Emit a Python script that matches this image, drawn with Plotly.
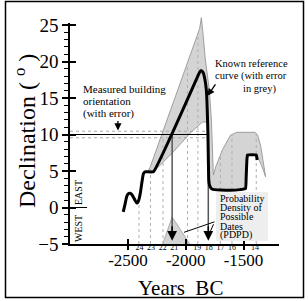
import numpy as np
import plotly.graph_objects as go

W, H = 308, 301
def px(x):
    return x / W
def py(y):
    return 1 - y / H

SERIF = "Liberation Serif"

# ---------------- data ----------------
# reference curve (thick black line)
CURVE_YEARS = [-2541, -2525, -2511, -2497, -2483, -2468, -2454, -2438, -2424, -2412,
               -2402, -2390, -2381, -2367, -2352, -2280, -1890, -1878, -1865, -1850,
               -1835, -1822, -1809, -1804, -1801, -1795, -1787, -1770, -1700, -1613,
               -1530, -1483, -1477, -1471, -1465, -1390, -1382]
CURVE_DECL = [-0.6, 0.5, 1.5, 1.9, 1.95, 1.8, 1.45, 0.95, 0.6, 0.8,
              1.3, 2.3, 3.3, 4.6, 4.9, 4.9, 18.2, 18.6, 18.75, 18.5,
              17.6, 16.1, 10.6, 6.0, 3.8, 3.1, 2.8, 2.5, 2.4, 2.35,
              2.45, 2.6, 4.2, 6.5, 7.2, 7.2, 6.5]

# error band of the reference curve (grey)
UPPER_YEARS = [-2330, -2309, -1880, -1865, -1852, -1830, -1796, -1778, -1761, -1740,
               -1683, -1613, -1560, -1400, -1378, -1352, -1309]
UPPER_DECL = [4.9, 5.5, 24.5, 26.0, 24.0, 20.2, 16.1, 12.0, 4.45, 5.6,
              7.9, 9.9, 10.3, 10.3, 9.9, 8.5, 4.2]
LOWER_YEARS = [-2330, -2265, -2109, -1961, -1856, -1813, -1809, -1804, -1801, -1795,
               -1787, -1770, -1700, -1613, -1530, -1483, -1477, -1471, -1465, -1385,
               -1340, -1309]
LOWER_DECL = [4.9, 5.1, 7.6, 10.2, 11.7, 11.7, 10.6, 6.0, 3.8, 3.1,
              2.8, 2.5, 2.4, 2.35, 2.45, 2.6, 4.2, 6.5, 7.2, 7.2,
              5.6, 4.2]

# measured building orientation
MEASURED = 10.0
MEASURED_ERR = 0.45

# probability density of possible dates
PDPD_YEARS = [-2200, -2118, -1965]
PDPD_DECL = [-5.0, -1.3, -5.0]

# projected dates (arrows)
ARROW_YEARS = [-2118, -1805]

# faint dotted projections
DOTTED_YEARS = [-2405, -2305, -2197, -1985, -1895, -1700, -1600, -1390]

# axes
X_RANGE = [-3002, -1193]
Y_RANGE_DATA = [-5, 26.5]
Y_RANGE_AXIS = [-5, 25.3]
X_TICKS = [-2500, -2000, -1500]
X_TICK_TEXT = ["-2500", "-2000", "-1500"]
Y_TICKS = [-5, 0, 5, 10, 15, 20, 25]
Y_MINOR = [v for v in range(-5, 26) if v % 5 != 0]
CENTURY_YEARS = [-2400, -2300, -2200, -2100, -1900, -1800, -1700, -1600, -1400]
CENTURY_TEXT = ["24", "23", "22", "21", "19", "18", "17", "16", "14"]

# ---------------- figure ----------------
XD = [px(70), px(279)]
YD_DATA = [py(244), py(244 - (Y_RANGE_DATA[1] - Y_RANGE_DATA[0]) * 7.3)]
YD_AXIS = [py(244), py(244 - (Y_RANGE_AXIS[1] - Y_RANGE_AXIS[0]) * 7.3)]

fig = go.Figure()

# grey band
poly_x = UPPER_YEARS + LOWER_YEARS[::-1]
poly_y = UPPER_DECL + LOWER_DECL[::-1]
fig.add_trace(go.Scatter(x=poly_x, y=poly_y, fill="toself", fillcolor="#d4d4d4",
                         mode="lines", line=dict(color="#8c8c8c", width=0.8),
                         hoverinfo="skip", showlegend=False))

# PDPD triangle
fig.add_trace(go.Scatter(x=PDPD_YEARS, y=PDPD_DECL, fill="toself", fillcolor="#d4d4d4",
                         mode="lines", line=dict(color="#9a9a9a", width=0.8),
                         hoverinfo="skip", showlegend=False))

# dotted vertical projections
up = np.interp(DOTTED_YEARS, UPPER_YEARS, UPPER_DECL, left=np.nan, right=np.nan)
cv = np.interp(DOTTED_YEARS, CURVE_YEARS, CURVE_DECL)
dx, dy = [], []
for yr, u, c in zip(DOTTED_YEARS, up, cv):
    top = c if np.isnan(u) else max(u, c)
    dx += [yr, yr, None]
    dy += [Y_RANGE_DATA[0], top, None]
fig.add_trace(go.Scatter(x=dx, y=dy, mode="lines",
                         line=dict(color="#b0b0b0", width=1, dash="dot"),
                         hoverinfo="skip", showlegend=False))

# measured orientation lines
x_end = ARROW_YEARS[1] + 8
fig.add_trace(go.Scatter(
    x=[X_RANGE[0], x_end, None, X_RANGE[0], x_end],
    y=[MEASURED + MEASURED_ERR, MEASURED + MEASURED_ERR, None,
       MEASURED - MEASURED_ERR, MEASURED - MEASURED_ERR],
    mode="lines", line=dict(color="#a8a8a8", width=1, dash="dot"),
    hoverinfo="skip", showlegend=False))
fig.add_trace(go.Scatter(x=[X_RANGE[0], x_end], y=[MEASURED, MEASURED], mode="lines",
                         line=dict(color="black", width=1),
                         hoverinfo="skip", showlegend=False))

# arrow shafts
ax_, ay_ = [], []
for yr in ARROW_YEARS:
    ax_ += [yr, yr, None]
    ay_ += [MEASURED, -4.0, None]
fig.add_trace(go.Scatter(x=ax_, y=ay_, mode="lines",
                         line=dict(color="#555555", width=1.5),
                         hoverinfo="skip", showlegend=False))

# reference curve
fig.add_trace(go.Scatter(x=CURVE_YEARS, y=CURVE_DECL, mode="lines",
                         line=dict(color="black", width=3, shape="spline", smoothing=0.3),
                         hoverinfo="skip", showlegend=False))

# dummy traces to instantiate decorative axes
for xa, ya in [("x2", "y2"), ("x3", "y2"), ("x2", "y3"), ("x4", "y2")]:
    fig.add_trace(go.Scatter(x=[None], y=[None], xaxis=xa, yaxis=ya, mode="lines",
                             hoverinfo="skip", showlegend=False))

annotations = []
# arrowheads on the projections
for yr in ARROW_YEARS:
    annotations.append(dict(x=yr, y=-4.55, xref="x", yref="y", text="", showarrow=True,
                            ax=0, ay=-16, arrowhead=2, arrowsize=1.3, arrowwidth=1.5,
                            arrowcolor="black", standoff=0))

# measured building label + arrow
meas_lines = ["Measured building", "orientation", "(with error)"]
for t, yc in zip(meas_lines, [89, 101, 113]):
    annotations.append(dict(x=px(81), y=py(yc), xref="paper", yref="paper", text=t,
                            showarrow=False, xanchor="left", yanchor="middle",
                            font=dict(family=SERIF, size=11, color="black")))
annotations.append(dict(x=-2587, y=MEASURED + MEASURED_ERR + 0.1, xref="x", yref="y",
                        text="", showarrow=True, ax=0, ay=-11, arrowhead=2,
                        arrowsize=1.1, arrowwidth=1.3, arrowcolor="black", standoff=0))

# known reference label + arrow
known_lines = ["Known reference", "curve (with error", "in grey)"]
for t, xl, yc in zip(known_lines, [213, 213, 241], [63, 76, 89]):
    annotations.append(dict(x=px(xl), y=py(yc), xref="paper", yref="paper", text=t,
                            showarrow=False, xanchor="left", yanchor="middle",
                            font=dict(family=SERIF, size=10.5, color="black")))
annotations.append(dict(x=-1812, y=15.3, xref="x", yref="y", text="", showarrow=True,
                        ax=9, ay=-13, arrowhead=2, arrowsize=1.1, arrowwidth=1.3,
                        arrowcolor="black", standoff=0))

# PDPD label
pdpd_lines = ["Probability", "Density of", "Possible", "Dates", "(PDPD)"]
for t, yc in zip(pdpd_lines, [198, 207.5, 217, 226.5, 235]):
    annotations.append(dict(x=px(218), y=py(yc), xref="paper", yref="paper", text=t,
                            showarrow=False, xanchor="left", yanchor="middle",
                            font=dict(family=SERIF, size=10, color="black")))
annotations.append(dict(x=-2015, y=-3.4, xref="x", yref="y", text="", showarrow=True,
                        ax=32, ay=-11, arrowhead=0, arrowwidth=1, arrowcolor="black",
                        standoff=0))
annotations.append(dict(x=-1797, y=-3.6, xref="x", yref="y", text="", showarrow=True,
                        ax=5, ay=-11, arrowhead=0, arrowwidth=1, arrowcolor="black",
                        standoff=0))

# EAST / WEST
annotations.append(dict(x=px(78), y=py(192), xref="paper", yref="paper", text="EAST",
                        showarrow=False, textangle=-90, xanchor="center", yanchor="middle",
                        font=dict(family=SERIF, size=10, color="black")))
annotations.append(dict(x=px(78), y=py(228), xref="paper", yref="paper", text="WEST",
                        showarrow=False, textangle=-90, xanchor="center", yanchor="middle",
                        font=dict(family=SERIF, size=10, color="black")))

# axis titles
annotations.append(dict(x=px(25), y=py(131), xref="paper", yref="paper",
                        text="Declination ( <sup>o</sup> )", showarrow=False,
                        textangle=-90, xanchor="center", yanchor="middle",
                        font=dict(family=SERIF, size=24, color="black")))
annotations.append(dict(x=px(180), y=py(288), xref="paper", yref="paper",
                        text="Years&nbsp; BC", showarrow=False,
                        xanchor="center", yanchor="middle",
                        font=dict(family=SERIF, size=21, color="black")))

shapes = [
    # frame around the whole picture
    dict(type="rect", xref="paper", yref="paper", x0=px(5.5), x1=px(303.5),
         y0=py(297.5), y1=py(1.5), line=dict(color="black", width=1.5)),
    # PDPD label background
    dict(type="rect", xref="paper", yref="paper", x0=px(216), x1=px(268),
         y0=py(241), y1=py(192), fillcolor="#eeeeee", line=dict(width=0), layer="above"),
    # WEST | EAST separator
    dict(type="line", xref="paper", yref="y2", x0=px(72), x1=px(87), y0=0, y1=0,
         line=dict(color="black", width=1)),
]

axis_font = dict(family=SERIF, color="black")
common = dict(automargin=False, showgrid=False, zeroline=False, fixedrange=True)
fig.update_layout(
    template="none",
    width=W, height=H, autosize=False,
    margin=dict(l=0, r=0, t=0, b=0, pad=0),
    paper_bgcolor="white", plot_bgcolor="rgba(0,0,0,0)",
    showlegend=False,
    font=dict(family=SERIF, color="black"),
    xaxis=dict(domain=XD, range=X_RANGE, visible=False, anchor="y", **common),
    yaxis=dict(domain=YD_DATA, range=Y_RANGE_DATA, visible=False, anchor="x", **common),
    xaxis2=dict(domain=XD, range=X_RANGE, anchor="y2", showline=True, linecolor="black",
                linewidth=1.5, tickmode="array",
                tickvals=X_TICKS, ticktext=X_TICK_TEXT, ticks="outside", ticklen=4,
                tickwidth=2, tickcolor="black", ticklabelstandoff=-4, tickangle=0,
                tickfont=dict(size=17, **axis_font), **common),
    yaxis2=dict(domain=YD_AXIS, range=Y_RANGE_AXIS, anchor="x2", showline=True,
                linecolor="black", linewidth=1.5,
                tickmode="array", tickvals=Y_TICKS, ticks="outside", ticklen=6,
                tickwidth=1.5, tickcolor="black", ticklabelstandoff=0,
                minor=dict(tickmode="array", tickvals=Y_MINOR, ticks="outside",
                           ticklen=4, tickwidth=1, tickcolor="black", showgrid=False),
                tickfont=dict(size=19, **axis_font), **common),
    xaxis3=dict(overlaying="x2", anchor="y2", range=X_RANGE, showline=False,
                tickmode="array", tickvals=X_TICKS,
                ticks="inside", ticklen=5, tickwidth=2, tickcolor="black",
                showticklabels=False, side="bottom", **common),
    yaxis3=dict(overlaying="y2", anchor="x2", range=Y_RANGE_AXIS, showline=False,
                tickmode="array", tickvals=Y_TICKS,
                ticks="inside", ticklen=6, tickwidth=1.5, tickcolor="black",
                showticklabels=False, side="left", **common),
    xaxis4=dict(overlaying="x2", anchor="y2", range=X_RANGE, showline=False,
                tickmode="array",
                tickvals=CENTURY_YEARS, ticktext=CENTURY_TEXT, ticks="",
                ticklabelstandoff=-3, tickangle=0, side="bottom",
                tickfont=dict(size=8, **axis_font), **common),
    annotations=annotations,
    shapes=shapes,
)

fig.write_html("out.html")
